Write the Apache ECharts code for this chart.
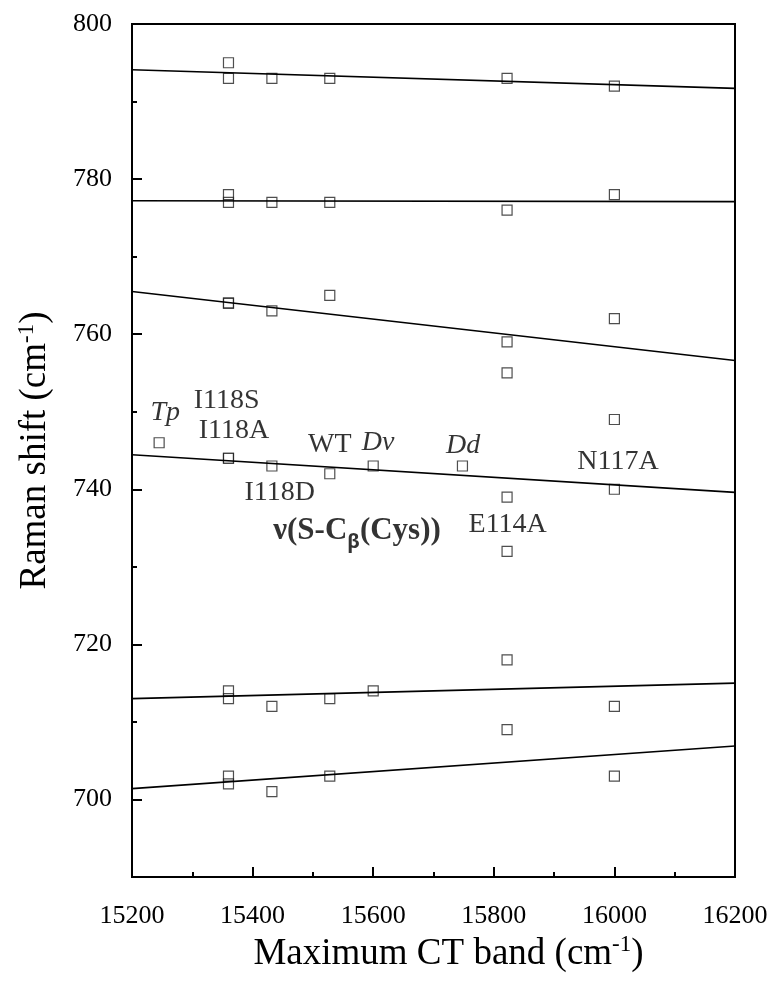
<!DOCTYPE html>
<html>
<head>
<meta charset="utf-8">
<script src="https://cdn.jsdelivr.net/npm/echarts@6/dist/echarts.min.js"></script>
<style>
html,body{margin:0;padding:0;background:#fff;}
#c{width:772px;height:983px;}
</style>
</head>
<body>
<div id="c"></div>
<script>
// Maximum CT band position (cm-1) for each protein
const proteins = ['Tp', 'I118S', 'I118A', 'I118D', 'WT', 'Dv', 'Dd', 'E114A', 'N117A'];
const ctBand   = [15245, 15360, 15360, 15432, 15528, 15600, 15748, 15822, 16000];
// Raman shifts (cm-1) observed for each protein
const shifts = [
  [746],
  [795, 778, 764, 744, 714, 703],
  [793, 777, 764, 744, 713, 702],
  [793, 777, 763, 743, 712, 701],
  [793, 777, 765, 742, 713, 703],
  [743, 714],
  [743],
  [793, 776, 759, 755, 739, 732, 718, 709],
  [792, 778, 762, 749, 740, 712, 703]
];
// Linear fit lines, values at the x-axis ends
const fitX = [15200, 16200];
const fitLines = [
  [794.1, 791.7],
  [777.2, 777.1],
  [765.5, 756.6],
  [744.45, 739.6],
  [713.0, 715.0],
  [701.4, 706.9]
];
// annotation texts with their anchor values
const annotations = [
  {text: 'Tp', x: 15255, y: 749.9, italic: true},
  {text: 'I118S', x: 15357, y: 751.4},
  {text: 'I118A', x: 15369, y: 747.6},
  {text: 'WT', x: 15528, y: 745.8},
  {text: 'Dv', x: 15608, y: 746.0, italic: true},
  {text: 'I118D', x: 15445, y: 739.6},
  {text: 'Dd', x: 15749, y: 745.6, italic: true},
  {text: 'N117A', x: 16006, y: 743.5},
  {text: 'E114A', x: 15823, y: 735.5}
];
const modeLabel = {x: 15434, y: 734.6};
const xMajor = [15200, 15400, 15600, 15800, 16000, 16200];
const xMinor = [15300, 15500, 15700, 15900, 16100];
const yMajor = [700, 720, 740, 760, 780, 800];
const yMinor = [710, 730, 750, 770, 790];

const FONT = '"Liberation Serif", "Times New Roman", serif';
const points = [];
shifts.forEach((arr, i) => arr.forEach(v => points.push([ctBand[i], v])));

const series = [];
fitLines.forEach(l => {
  series.push({
    type: 'line', xAxisIndex: 0, yAxisIndex: 0,
    data: [[fitX[0], l[0]], [fitX[1], l[1]]],
    symbol: 'none', silent: true,
    lineStyle: {color: '#000', width: 1.6}
  });
});
series.push({
  type: 'scatter', xAxisIndex: 0, yAxisIndex: 0,
  data: points, symbol: 'rect', symbolSize: 10,
  itemStyle: {color: 'rgba(0,0,0,0)', borderColor: '#222', borderWidth: 1.2}
});
series.push({
  type: 'scatter', xAxisIndex: 0, yAxisIndex: 0,
  symbolSize: 0.1, itemStyle: {color: 'rgba(0,0,0,0)'},
  data: annotations.map(a => ({
    value: [a.x, a.y],
    label: {
      show: true, position: 'inside', formatter: a.text,
      fontFamily: FONT, fontSize: 28, color: '#000',
      fontStyle: a.italic ? 'italic' : 'normal'
    }
  })).concat([{
    value: [modeLabel.x, modeLabel.y],
    label: {
      show: true, position: 'right', distance: 0,
      formatter: '{b|ν(S-C}{s|β}{b|(Cys))}',
      rich: {
        b: {fontFamily: FONT, fontSize: 31, fontWeight: 'bold', color: '#000'},
        s: {fontFamily: 'Noto Sans', fontSize: 20, fontWeight: 'bold', color: '#000', padding: [22, 0, 0, 0]}
      }
    }
  }])
});

const chart = echarts.init(document.getElementById('c'), null, {renderer: 'canvas'});
chart.setOption({
  animation: false,
  backgroundColor: '#fff',
  grid: {left: 132, top: 24, right: 37, bottom: 106, show: true, borderColor: '#000', borderWidth: 2, backgroundColor: 'transparent'},
  xAxis: [{
    type: 'value', min: 15200, max: 16200, position: 'bottom',
    splitLine: {show: false},
    axisLine: {show: true, lineStyle: {color: '#000', width: 2}},
    axisTick: {show: true, inside: true, length: 10, lineStyle: {color: '#000', width: 2}, customValues: xMajor},
    axisLabel: {customValues: xMajor, formatter: v => String(v), fontFamily: FONT, fontSize: 26, color: '#000', margin: 26},
    name: 'Maximum CT band (cm{sup|-1})',
    nameLocation: 'middle', nameGap: 52,
    nameTextStyle: {fontFamily: FONT, fontSize: 37, color: '#000', padding: [0, 0, 0, 30],
      rich: {sup: {fontFamily: FONT, fontSize: 23, color: '#000', padding: [0, 0, 18, 0]}}}
  }, {
    type: 'value', min: 15200, max: 16200, position: 'bottom',
    splitLine: {show: false}, axisLine: {show: false},
    axisTick: {show: true, inside: true, length: 5, lineStyle: {color: '#000', width: 2}, customValues: xMinor},
    axisLabel: {show: false}
  }],
  yAxis: [{
    type: 'value', min: 690, max: 800, position: 'left',
    splitLine: {show: false},
    axisLine: {show: true, lineStyle: {color: '#000', width: 2}},
    axisTick: {show: true, inside: true, length: 10, lineStyle: {color: '#000', width: 2}, customValues: yMajor},
    axisLabel: {customValues: yMajor, formatter: v => String(v), fontFamily: FONT, fontSize: 26, color: '#000', margin: 20},
    name: 'Raman shift (cm{sup|-1})',
    nameLocation: 'middle', nameGap: 76,
    nameTextStyle: {fontFamily: FONT, fontSize: 37, color: '#000',
      rich: {sup: {fontFamily: FONT, fontSize: 23, color: '#000', padding: [0, 0, 18, 0]}}}
  }, {
    type: 'value', min: 690, max: 800, position: 'left',
    splitLine: {show: false}, axisLine: {show: false},
    axisTick: {show: true, inside: true, length: 5, lineStyle: {color: '#000', width: 2}, customValues: yMinor},
    axisLabel: {show: false}
  }],
  series: series
});
</script>
</body>
</html>
